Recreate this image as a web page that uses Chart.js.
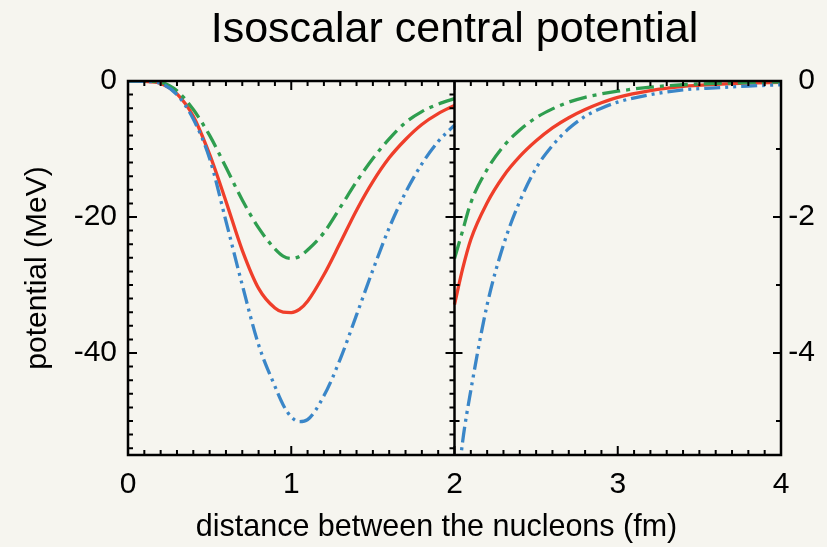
<!DOCTYPE html>
<html>
<head>
<meta charset="utf-8">
<script src="https://cdn.jsdelivr.net/npm/chart.js@4.4.1/dist/chart.umd.min.js"></script>
<style>
  html, body { margin: 0; padding: 0; background: #f6f5ef; }
  #wrap { width: 827px; height: 547px; }
</style>
</head>
<body>
<div id="wrap"><canvas id="c" width="827" height="547"></canvas></div>
<script>
// ---- data ----
const TITLE = 'Isoscalar central potential';
const X_TITLE = 'distance between the nucleons (fm)';
const Y_TITLE = 'potential (MeV)';

const X_TICKS = [0, 1, 2, 3, 4];
const LEFT_TICKS = [0, -20, -40];
const RIGHT_TICKS = [0, -2, -4];

// left panel (0-2 fm), left axis in MeV
const xLeft     = [0, 0.1, 0.2, 0.3, 0.4, 0.5, 0.6, 0.7, 0.8, 0.9, 0.95, 1.0, 1.05, 1.1, 1.2, 1.3, 1.4, 1.5, 1.6, 1.7, 1.8, 1.9, 2.0];
const redLeft   = [0, -0.05, -0.35, -1.9, -5.2, -10.8, -17.7, -24.9, -30.5, -33.4, -34.0, -34.06, -33.6, -32.4, -28.5, -23.8, -19.0, -14.8, -11.3, -8.6, -6.4, -4.8, -3.6];
const greenLeft = [0, -0.02, -0.2, -1.45, -4.2, -8.0, -12.7, -17.5, -21.6, -24.7, -25.75, -26.1, -25.8, -24.85, -22.3, -18.6, -14.8, -11.4, -8.5, -6.1, -4.5, -3.4, -2.6];
const blueLeft  = [0, -0.05, -0.35, -2.0, -5.6, -11.4, -20.6, -30.0, -38.8, -44.9, -47.6, -49.4, -50.1, -49.8, -46.3, -40.9, -34.4, -27.8, -21.6, -16.4, -12.2, -8.9, -6.5];

// right panel (2-4 fm), right axis in MeV
const xRight     = [2.0, 2.05, 2.1, 2.2, 2.3, 2.4, 2.5, 2.6, 2.7, 2.8, 2.9, 3.0, 3.2, 3.4, 3.6, 3.8, 4.0];
const redRight   = [-3.29, -2.76, -2.33, -1.79, -1.40, -1.11, -0.88, -0.69, -0.54, -0.42, -0.32, -0.24, -0.14, -0.08, -0.05, -0.03, -0.02];
const greenRight = [-2.61, -2.20, -1.79, -1.30, -0.96, -0.72, -0.54, -0.41, -0.31, -0.24, -0.19, -0.15, -0.09, -0.055, -0.035, -0.025, -0.015];
const blueRight  = [-6.4, -5.3, -4.55, -3.29, -2.41, -1.77, -1.28, -0.95, -0.70, -0.52, -0.40, -0.31, -0.20, -0.13, -0.10, -0.075, -0.055];

// ---- styling ----
const RED = '#ef3e2a', GREEN = '#2f9e4f', BLUE = '#3a86c8';
const BG = '#f6f5ef';
const FONT = '"Liberation Sans", Arial, Helvetica, sans-serif';

const pts = (xs, ys) => xs.map((x, i) => ({ x: x, y: ys[i] }));

function ds(xs, ys, color, dash, axis) {
  return {
    data: pts(xs, ys),
    yAxisID: axis,
    borderColor: color,
    borderWidth: 3.3,
    borderDash: dash,
    borderCapStyle: 'butt',
    pointRadius: 0,
    cubicInterpolationMode: 'monotone',
    fill: false
  };
}

const DASH_GREEN = [18, 6, 4, 6];
const DASH_BLUE = [16, 5, 3, 5, 3, 5];

const bgPlugin = {
  id: 'bg',
  beforeDraw(chart) {
    const ctx = chart.ctx;
    ctx.save();
    ctx.fillStyle = BG;
    ctx.fillRect(0, 0, chart.width, chart.height);
    ctx.restore();
  }
};

// frame, divider and inward tick marks, placed with the chart's own scales
const framePlugin = {
  id: 'frame',
  afterDatasetsDraw(chart) {
    const { ctx, chartArea: a, scales } = chart;
    const xs = scales.x, yl = scales.yL, yr = scales.yR;
    const xMid = xs.getPixelForValue(2);
    ctx.save();
    ctx.strokeStyle = '#000';
    ctx.lineCap = 'butt';
    ctx.lineWidth = 2;
    ctx.beginPath();
    for (let i = 0; i <= 40; i++) {
      const v = i / 10;
      const px = xs.getPixelForValue(v);
      const len = (i % 10 === 0) ? 9 : 5;
      ctx.moveTo(px, a.bottom); ctx.lineTo(px, a.bottom - len);
      ctx.moveTo(px, a.top); ctx.lineTo(px, a.top + len);
    }
    for (let v = 0; v >= -54; v -= 2) {
      const py = yl.getPixelForValue(v);
      const len = (v % 20 === 0) ? 9 : 5;
      ctx.moveTo(a.left, py); ctx.lineTo(a.left + len, py);
      ctx.moveTo(xMid, py); ctx.lineTo(xMid - len, py);
    }
    for (let v = 0; v >= -5; v -= 1) {
      const py = yr.getPixelForValue(v);
      const len = (v % 2 === 0) ? 8 : 5;
      ctx.moveTo(a.right, py); ctx.lineTo(a.right - len, py);
      ctx.moveTo(xMid, py); ctx.lineTo(xMid + len, py);
    }
    ctx.stroke();
    ctx.lineWidth = 2.5;
    ctx.strokeRect(a.left, a.top, a.right - a.left, a.bottom - a.top);
    ctx.beginPath();
    ctx.moveTo(xMid, a.top); ctx.lineTo(xMid, a.bottom);
    ctx.stroke();
    // x axis title, sitting a little left of the plot centre as in the reference
    ctx.fillStyle = '#000';
    ctx.font = '30.5px ' + FONT;
    ctx.textAlign = 'center';
    ctx.textBaseline = 'middle';
    ctx.fillText(X_TITLE, (a.left + a.right) / 2 - 18, chart.height - 19);
    ctx.restore();
  }
};

const setTicks = (arr) => (s) => { s.ticks = arr.map(v => ({ value: v })); };

new Chart(document.getElementById('c'), {
  type: 'line',
  data: {
    datasets: [
      ds(xLeft, blueLeft, BLUE, DASH_BLUE, 'yL'),
      ds(xLeft, greenLeft, GREEN, DASH_GREEN, 'yL'),
      ds(xLeft, redLeft, RED, [], 'yL'),
      ds(xRight, blueRight, BLUE, DASH_BLUE, 'yR'),
      ds(xRight, greenRight, GREEN, DASH_GREEN, 'yR'),
      ds(xRight, redRight, RED, [], 'yR')
    ]
  },
  options: {
    responsive: false,
    animation: false,
    events: [],
    layout: { padding: { left: 0, top: 0, bottom: 0, right: 12 } },
    plugins: {
      legend: { display: false },
      tooltip: { enabled: false },
      title: {
        display: true,
        fullSize: false,
        text: TITLE,
        color: '#000',
        font: { family: FONT, size: 43, weight: 'normal', lineHeight: 1.2 },
        padding: { top: 4, bottom: 25.4 }
      }
    },
    scales: {
      x: {
        type: 'linear',
        min: 0, max: 4,
        afterBuildTicks: setTicks(X_TICKS),
        afterFit: (s) => { s.height = 92; },
        grid: { display: false, drawTicks: false },
        border: { display: false },
        ticks: { color: '#000', padding: 12, maxRotation: 0, font: { family: FONT, size: 30 } },
        title: { display: false }
      },
      yL: {
        type: 'linear',
        position: 'left',
        min: -55, max: 0,
        afterBuildTicks: setTicks(LEFT_TICKS),
        afterFit: (s) => { s.width = 128; },
        grid: { display: false, drawTicks: false },
        border: { display: false },
        ticks: { color: '#000', padding: 11, font: { family: FONT, size: 30 } },
        title: { display: true, text: Y_TITLE, color: '#000', padding: { top: 20, bottom: 0 },
                 font: { family: FONT, size: 30 } }
      },
      yR: {
        type: 'linear',
        position: 'right',
        min: -5.5, max: 0,
        afterBuildTicks: setTicks(RIGHT_TICKS),
        afterFit: (s) => { s.width = 34; },
        grid: { display: false, drawTicks: false },
        border: { display: false },
        ticks: { color: '#000', padding: 7, crossAlign: 'far', font: { family: FONT, size: 30 } }
      }
    }
  },
  plugins: [bgPlugin, framePlugin]
});
</script>
</body>
</html>
